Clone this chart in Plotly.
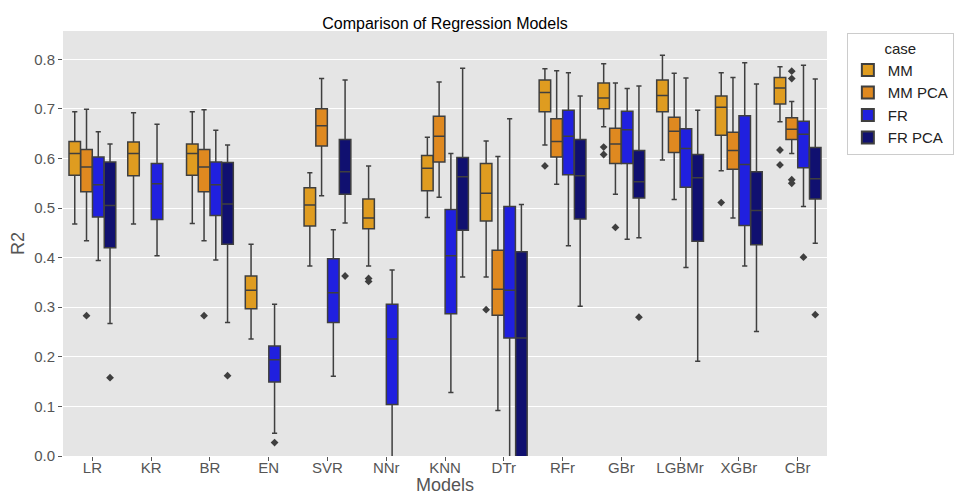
import plotly.graph_objects as go

models = ["LR", "KR", "BR", "EN", "SVR", "NNr", "KNN", "DTr", "RFr", "GBr", "LGBMr", "XGBr", "CBr"]
cases = ["MM", "MM PCA", "FR", "FR PCA"]

# stats per case, ordered as models; None = missing
mm_low  = [0.468, 0.468, 0.469, 0.236, 0.383, 0.383, 0.481, 0.361, 0.627, 0.664, 0.597, 0.575, 0.674]
mm_q1   = [0.566, 0.565, 0.566, 0.297, 0.464, 0.458, 0.535, 0.474, 0.694, 0.700, 0.694, 0.647, 0.710]
mm_med  = [0.610, 0.610, 0.610, 0.334, 0.506, 0.480, 0.580, 0.530, 0.733, 0.722, 0.727, 0.703, 0.742]
mm_q3   = [0.634, 0.633, 0.629, 0.363, 0.541, 0.518, 0.606, 0.590, 0.758, 0.752, 0.758, 0.726, 0.763]
mm_high = [0.694, 0.692, 0.694, 0.427, 0.571, 0.585, 0.643, 0.635, 0.781, 0.791, 0.808, 0.773, 0.785]

mmp_low  = [0.434, None, 0.434, None, 0.525, None, 0.522, 0.092, 0.548, 0.528, 0.517, 0.480, 0.610]
mmp_q1   = [0.533, None, 0.533, None, 0.625, None, 0.593, 0.284, 0.603, 0.590, 0.612, 0.578, 0.638]
mmp_med  = [0.583, None, 0.583, None, 0.666, None, 0.645, 0.336, 0.634, 0.629, 0.655, 0.616, 0.659]
mmp_q3   = [0.618, None, 0.618, None, 0.700, None, 0.685, 0.415, 0.680, 0.661, 0.683, 0.653, 0.682]
mmp_high = [0.699, None, 0.698, None, 0.761, None, 0.754, 0.604, 0.777, 0.752, 0.772, 0.763, 0.715]

fr_low  = [0.394, 0.404, 0.395, 0.046, 0.161, -0.200, 0.128, -0.150, 0.424, 0.437, 0.380, 0.383, 0.503]
fr_q1   = [0.482, 0.477, 0.485, 0.149, 0.269, 0.104, 0.287, 0.238, 0.567, 0.590, 0.542, 0.465, 0.581]
fr_med  = [0.547, 0.549, 0.547, 0.194, 0.329, 0.236, 0.404, 0.334, 0.645, 0.658, 0.620, 0.588, 0.649]
fr_q3   = [0.603, 0.590, 0.593, 0.222, 0.398, 0.306, 0.497, 0.503, 0.697, 0.695, 0.660, 0.686, 0.675]
fr_high = [0.654, 0.669, 0.657, 0.306, 0.456, 0.375, 0.610, 0.680, 0.773, 0.741, 0.762, 0.793, 0.788]

frp_low  = [0.267, None, 0.269, None, 0.470, None, 0.361, -0.400, 0.302, 0.440, 0.191, 0.251, 0.429]
frp_q1   = [0.420, None, 0.427, None, 0.528, None, 0.455, -0.050, 0.478, 0.520, 0.433, 0.426, 0.518]
frp_med  = [0.505, None, 0.508, None, 0.573, None, 0.563, 0.238, 0.565, 0.553, 0.561, 0.495, 0.559]
frp_q3   = [0.593, None, 0.592, None, 0.638, None, 0.602, 0.412, 0.638, 0.616, 0.608, 0.573, 0.622]
frp_high = [0.629, None, 0.627, None, 0.758, None, 0.782, 0.507, 0.726, 0.746, 0.697, 0.750, 0.760]

# outliers: (model, value)
mm_out  = [("NNr", 0.352), ("NNr", 0.358), ("DTr", 0.295), ("RFr", 0.585), ("GBr", 0.623),
           ("GBr", 0.608), ("XGBr", 0.511), ("CBr", 0.617), ("CBr", 0.587)]
mmp_out = [("LR", 0.283), ("BR", 0.283), ("GBr", 0.461), ("CBr", 0.776), ("CBr", 0.761),
           ("CBr", 0.557), ("CBr", 0.550)]
fr_out  = [("EN", 0.027), ("CBr", 0.401)]
frp_out = [("LR", 0.158), ("BR", 0.162), ("SVR", 0.363), ("GBr", 0.280), ("CBr", 0.285)]

colors = ["#DF9C20", "#DF8920", "#2020DF", "#101070"]
offsets = [-0.3, -0.1, 0.1, 0.3]
edge = "#3F3F3F"

stats = [
    (mm_low, mm_q1, mm_med, mm_q3, mm_high, mm_out),
    (mmp_low, mmp_q1, mmp_med, mmp_q3, mmp_high, mmp_out),
    (fr_low, fr_q1, fr_med, fr_q3, fr_high, fr_out),
    (frp_low, frp_q1, frp_med, frp_q3, frp_high, frp_out),
]

fig = go.Figure()
for h, (lo, q1, med, q3, hi, outs) in enumerate(stats):
    idx = [i for i in range(len(models)) if med[i] is not None]
    fig.add_trace(go.Box(
        name=cases[h],
        x=[i + offsets[h] for i in idx],
        lowerfence=[lo[i] for i in idx],
        q1=[q1[i] for i in idx],
        median=[med[i] for i in idx],
        q3=[q3[i] for i in idx],
        upperfence=[hi[i] for i in idx],
        boxpoints=False,
        width=0.196,
        whiskerwidth=0.45,
        fillcolor=colors[h],
        line=dict(color=edge, width=1.5),
        showlegend=True,
    ))
for h, (lo, q1, med, q3, hi, outs) in enumerate(stats):
    fig.add_trace(go.Scatter(
        x=[models.index(m) + offsets[h] for m, v in outs],
        y=[v for m, v in outs],
        mode="markers",
        marker=dict(symbol="diamond", size=6, color=edge),
        showlegend=False,
        hoverinfo="y",
    ))

font_family = "Liberation Sans, Arial, sans-serif"
fig.update_layout(
    width=955, height=495,
    margin=dict(l=63, r=128, t=31, b=39, autoexpand=False),
    paper_bgcolor="white",
    plot_bgcolor="#E5E5E5",
    font=dict(family=font_family, size=15, color="#555555"),
    title=dict(text="Comparison of Regression Models", x=0.5, xref="paper", xanchor="center",
               y=0.965, yref="container", font=dict(size=16, color="black")),
    boxmode="overlay",
    legend=dict(
        title=dict(text="case", side="top center", font=dict(size=15, color="#222222")),
        x=1.026, y=0.995, xanchor="left", yanchor="top",
        bgcolor="white", bordercolor="#CCCCCC", borderwidth=1,
        font=dict(size=15, color="#222222"),
        tracegroupgap=0, itemsizing="constant",
    ),
    xaxis=dict(
        range=[-0.5, 12.5], tickmode="array", tickvals=list(range(len(models))), ticktext=models,
        showgrid=False, zeroline=False, ticks="outside", ticklen=4, tickcolor="#555555",
        ticklabelstandoff=-6,
        title=dict(text="Models", standoff=4), automargin=False,
    ),
    yaxis=dict(
        range=[0, 0.857], dtick=0.1, tickformat=".1f", gridcolor="white", gridwidth=1,
        zeroline=False, ticks="outside", ticklen=4, tickcolor="#555555",
        title=dict(text="R2", standoff=4), automargin=False,
    ),
)

fig.write_html("out.html")
